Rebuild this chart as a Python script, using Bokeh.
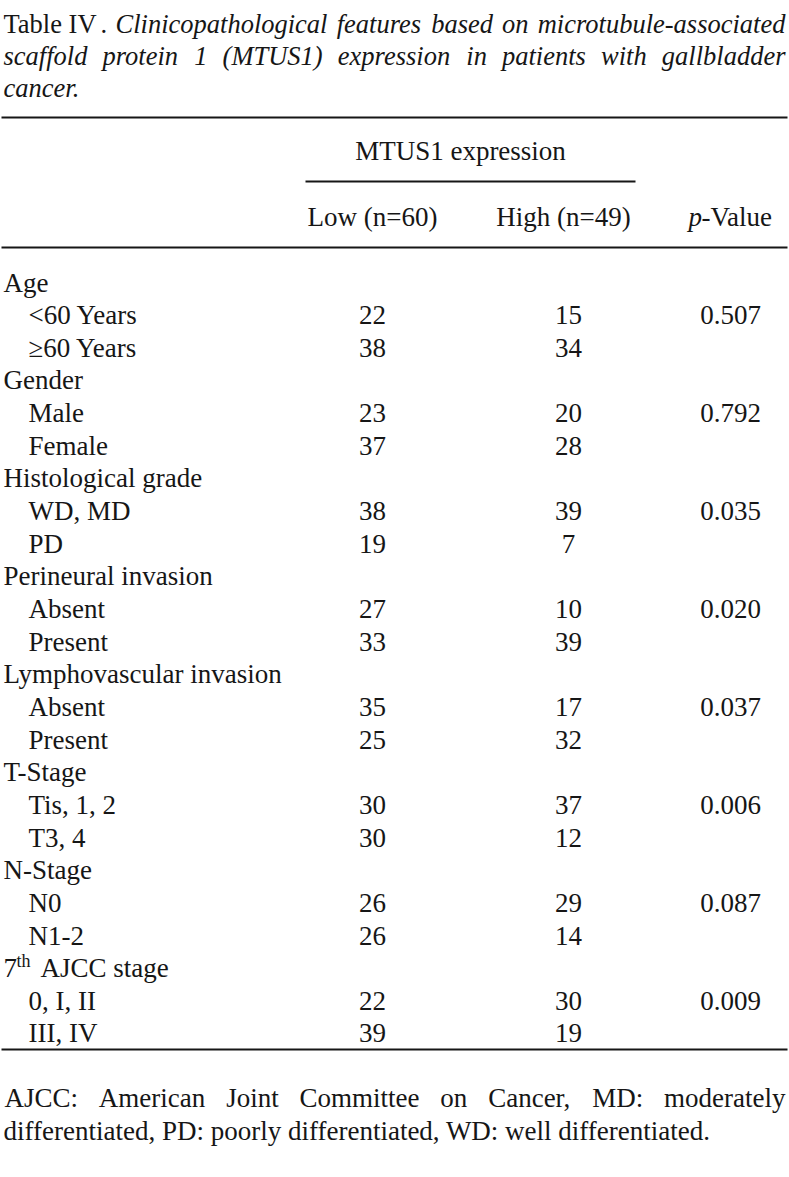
from bokeh.plotting import figure
from bokeh.models import Range1d
from bokeh.core.properties import value
from bokeh.embed import file_html
from bokeh.resources import INLINE

# ---------------- data ----------------
categories = ["Age", "Gender", "Histological grade", "Perineural invasion",
              "Lymphovascular invasion", "T-Stage", "N-Stage", "7th AJCC stage"]
subgroups = [["<60 Years", "\u226560 Years"], ["Male", "Female"], ["WD, MD", "PD"],
             ["Absent", "Present"], ["Absent", "Present"], ["Tis, 1, 2", "T3, 4"],
             ["N0", "N1-2"], ["0, I, II", "III, IV"]]
low_counts = [[22, 38], [23, 37], [38, 19], [27, 33], [35, 25], [30, 30], [26, 26], [22, 39]]
high_counts = [[15, 34], [20, 28], [39, 7], [10, 39], [17, 32], [37, 12], [29, 14], [30, 19]]
p_values = ["0.507", "0.792", "0.035", "0.020", "0.037", "0.006", "0.087", "0.009"]
col_headers = ["Low (n=60)", "High (n=49)"]
group_header = "MTUS1 expression"

title_line1 = ["Clinicopathological", "features", "based", "on", "microtubule-associated"]
title_line2 = ["scaffold", "protein", "1", "(MTUS1)", "expression", "in", "patients", "with", "gallbladder"]
footer_line1 = ["AJCC:", "American", "Joint", "Committee", "on", "Cancer,", "MD:", "moderately"]
footer_line2 = "differentiated, PD: poorly differentiated, WD: well differentiated."

# ---------------- font metrics (Times-compatible, per 1000 em) for justification ----------------
ROMAN = dict(zip("abcdefghijklmnopqrstuvwxyz",
                 [444, 500, 444, 500, 444, 333, 500, 500, 278, 278, 500, 278, 778,
                  500, 500, 500, 500, 333, 389, 278, 500, 500, 722, 500, 500, 444]))
ROMAN.update(zip("ABCDEFGHIJKLMNOPQRSTUVWXYZ",
                 [722, 667, 667, 722, 611, 556, 722, 722, 333, 389, 722, 611, 889,
                  722, 722, 556, 722, 667, 556, 611, 722, 722, 944, 722, 722, 611]))
ROMAN.update({" ": 250, "(": 333, ")": 333, ",": 250, "-": 333, ".": 250, ":": 278})
ROMAN.update({d: 500 for d in "0123456789"})
ITALIC = dict(zip("abcdefghijklmnopqrstuvwxyz",
                  [500, 500, 444, 500, 444, 278, 500, 500, 278, 278, 444, 278, 722,
                   500, 500, 500, 500, 389, 389, 278, 500, 444, 667, 444, 444, 389]))
ITALIC.update(zip("ABCDEFGHIJKLMNOPQRSTUVWXYZ",
                  [611, 611, 667, 722, 611, 611, 722, 722, 333, 444, 667, 556, 833,
                   667, 722, 611, 722, 611, 500, 556, 722, 611, 833, 611, 556, 556]))
ITALIC.update({" ": 250, "(": 333, ")": 333, ",": 250, "-": 333, ".": 250, ":": 333})
ITALIC.update({d: 500 for d in "0123456789"})


def justify(words, x0, x1, table, size):
    widths = [sum(table.get(c, 500) for c in w) * size / 1000.0 for w in words]
    gap = (x1 - x0 - sum(widths)) / (len(words) - 1)
    xs, x = [], x0
    for wd in widths:
        xs.append(x)
        x += wd + gap
    return xs


# ---------------- layout ----------------
W, H = 789, 1177
FONT = "Liberation Serif"
FS = 27
FS_T = 26.5

p = figure(width=W, height=H, output_backend="svg", toolbar_location=None,
           x_range=Range1d(0, W), y_range=Range1d(H, 0), min_border=0)
p.axis.visible = False
p.grid.visible = False
p.outline_line_color = None
p.background_fill_color = "white"

INK = "#161616"


def txt(x, y, t, align="left", style="normal", size=FS):
    p.text(x=[x], y=[y], text=[t], text_font=value(FONT), text_font_size=f"{size}px",
           text_font_style=style, text_align=align, text_baseline="middle", text_color=INK)


# title
txt(3, 23, "Table IV", size=FS_T)
txt(100, 23, ".", size=FS_T)
for w, x in zip(title_line1, justify(title_line1, 115, 786, ITALIC, FS_T)):
    txt(x, 23, w, style="italic", size=FS_T)
for w, x in zip(title_line2, justify(title_line2, 3, 785, ITALIC, FS_T)):
    txt(x, 55, w, style="italic", size=FS_T)
txt(3, 87, "cancer.", style="italic", size=FS_T)

# rules
p.segment(x0=[1, 305, 1, 1], y0=[117, 181, 247, 1049], x1=[787, 635, 787, 787], y1=[117, 181, 247, 1049],
          line_color=INK, line_width=2)

# headers
X_LOW, X_HIGH, X_P = 372, 563, 730
txt(460, 150, group_header, align="center")
txt(X_LOW, 216, col_headers[0], align="center")
txt(X_HIGH, 216, col_headers[1], align="center")
txt(688, 216, "p", style="italic")
txt(701, 216, "-Value")

# body
y0 = 282
dy = 32.65
row = 0
for ci, cat in enumerate(categories):
    y = y0 + row * dy
    if cat.startswith("7th"):
        txt(3, y, "7")
        txt(16, y - 7, "th", size=18)
        txt(40, y, "AJCC stage")
    else:
        txt(3, y, cat)
    row += 1
    for si, sub in enumerate(subgroups[ci]):
        y = y0 + row * dy
        txt(28, y, sub)
        txt(X_LOW, y, str(low_counts[ci][si]), align="center")
        txt(X_HIGH + 5, y, str(high_counts[ci][si]), align="center")
        if si == 0:
            txt(X_P, y, p_values[ci], align="center")
        row += 1

# footer
for w, x in zip(footer_line1, justify(footer_line1, 4, 785, ROMAN, FS)):
    txt(x, 1097, w)
txt(3, 1130, footer_line2)

open("out.html", "w").write(file_html(p, INLINE))
